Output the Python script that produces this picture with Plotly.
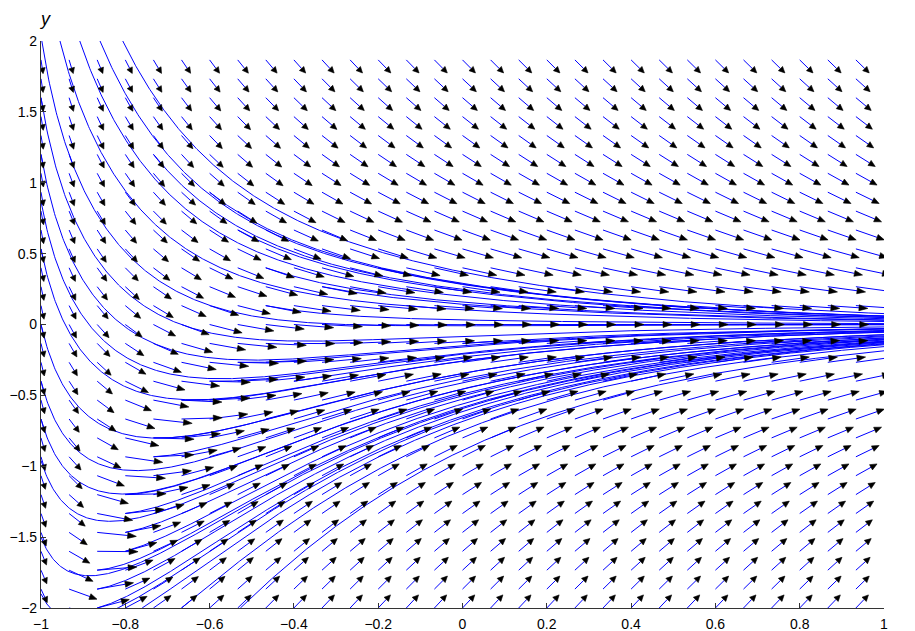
import numpy as np
import plotly.graph_objects as go

# ---- data -------------------------------------------------------------
# direction-field sampling grid (30 x 30)
grid_x = np.linspace(-1, 1, 31)[:-1]
grid_y = np.linspace(-2, 2, 31)[:-1]

# slope model read off the field: dy/dx = -a(x)*y - b(x), s = x + 1
#   a(x) = A0 + A1/(s + E),   b(x) = B/(s + E) * exp(-(s/S0)^2)
A0, A1, E = 1.5, 0.1, 0.05
B, S0 = 0.65, 0.5

# starting points of the solution curves
start_x = [-0.998, -0.955, -0.908, -0.86, -0.806,
           -1, -1, -1, -1, -1, -1, -1, -1, -1, -1,
           -0.867, -0.76, -0.667, -0.527,
           -0.867, -0.867, -0.8, -0.8, -0.8, -0.8,
           -0.733, -0.733, -0.667, -0.6, -0.533, -0.467,
           -0.733, -0.6, -0.533, -0.467, -0.333, -0.2, -0.4, 0.0]
start_y = [2, 2, 2, 2, 2,
           1.6, 1.2, 0.867, 0.533, 0.0, -0.4, -0.667, -0.96, -1.5, -1.9,
           -2, -2, -2, -2,
           -1.733, -1.867, -1.6, -1.467, -1.333, -1.2,
           -0.8, -0.933, -0.533, -0.4, -0.267, 0.133,
           1.2, 0.933, 0.667, 0.4, 0.267, 0.4, -0.4, -0.133]

x_ticks = [-1, -0.8, -0.6, -0.4, -0.2, 0, 0.2, 0.4, 0.6, 0.8, 1]
x_tick_text = ["\u22121", "\u22120.8", "\u22120.6", "\u22120.4", "\u22120.2", "0",
               "0.2", "0.4", "0.6", "0.8", "1"]
y_ticks = [-2, -1.5, -1, -0.5, 0, 0.5, 1, 1.5, 2]
y_tick_text = ["\u22122", "\u22121.5", "\u22121", "\u22120.5", "0", "0.5", "1", "1.5", "2"]

# ---- layout constants ---------------------------------------------------
# the page body adds an 8 px offset, so margins are shifted accordingly
W, H = 915, 631
ML, MR, MT, MB = 33, 39, 33, 31
SX = (W - ML - MR) / 2.0   # px per x unit
SY = (H - MT - MB) / 4.0   # px per y unit
ARROW_LEN = 0.097
FONT = "Liberation Sans, Arial, Helvetica, sans-serif"


def slope(x, y):
    s = x + 1.0
    a = A0 + A1 / (s + E)
    b = B / (s + E) * np.exp(-(s / S0) ** 2)
    return -a * y - b


def solve(x0, y0, h=0.002):
    xs, ys = [x0], [y0]
    x, y = x0, y0
    while x < 1.0 and abs(y) < 8:
        k1 = slope(x, y)
        k2 = slope(x + h / 2, y + h / 2 * k1)
        k3 = slope(x + h / 2, y + h / 2 * k2)
        k4 = slope(x + h, y + h * k3)
        y = y + h / 6 * (k1 + 2 * k2 + 2 * k3 + k4)
        x = x + h
        xs.append(x)
        ys.append(y)
    return xs, ys


fig = go.Figure()

# solution curves
cx, cy = [], []
for x0, y0 in zip(start_x, start_y):
    xs, ys = solve(x0, y0)
    cx += xs + [None]
    cy += ys + [None]
fig.add_trace(go.Scatter(x=cx, y=cy, mode="lines", line=dict(color="#0000ff", width=1),
                         hoverinfo="skip", showlegend=False))

# direction field: blue shafts, black heads
sx_, sy_, hx, hy = [], [], [], []
for gx in grid_x:
    for gy in grid_y:
        f = slope(gx, gy)
        n = np.hypot(1.0, f)
        px = ARROW_LEN / n * SX
        py = ARROW_LEN * f / n * SY
        lp = np.hypot(px, py)
        ux, uy = px / lp, py / lp
        hl = 4.0 + 0.12 * lp
        hw = 3.0
        bx, by = px - hl * ux, py - hl * uy
        sx_ += [gx, gx + bx / SX, None]
        sy_ += [gy, gy + by / SY, None]
        tipx, tipy = gx + px / SX, gy + py / SY
        lx, ly = gx + (bx - hw * uy) / SX, gy + (by + hw * ux) / SY
        rx, ry = gx + (bx + hw * uy) / SX, gy + (by - hw * ux) / SY
        hx += [tipx, lx, rx, tipx, None]
        hy += [tipy, ly, ry, tipy, None]

fig.add_trace(go.Scatter(x=sx_, y=sy_, mode="lines", line=dict(color="#0000ff", width=1),
                         hoverinfo="skip", showlegend=False))
fig.add_trace(go.Scatter(x=hx, y=hy, mode="lines", fill="toself", fillcolor="#000000",
                         line=dict(color="#000000", width=0.6),
                         hoverinfo="skip", showlegend=False))

axis_common = dict(showgrid=False, zeroline=False, showline=True, linecolor="#333333",
                   linewidth=1.2, ticks="inside", ticklen=5, tickcolor="#333333",
                   automargin=False,
                   tickfont=dict(family=FONT, size=14, color="#000000"))
fig.update_xaxes(range=[-1, 1], tickvals=x_ticks, ticktext=x_tick_text,
                 ticklabelstandoff=3, **axis_common)
fig.update_yaxes(range=[-2, 2], tickvals=y_ticks, ticktext=y_tick_text, **axis_common)

fig.add_annotation(x=0, y=1, xref="paper", yref="paper", text="<i>y</i>", showarrow=False,
                   xanchor="center", yanchor="bottom", yshift=10, xshift=4,
                   font=dict(family=FONT, size=18, color="#000000"))
fig.add_annotation(x=1, y=0, xref="paper", yref="paper", text="<i>x</i>", showarrow=False,
                   xanchor="left", yanchor="top", xshift=21, yshift=5,
                   font=dict(family=FONT, size=18, color="#000000"))

fig.update_layout(width=W, height=H, margin=dict(l=ML, r=MR, t=MT, b=MB),
                  plot_bgcolor="#ffffff", paper_bgcolor="#ffffff", showlegend=False)

fig.write_html("out.html")
